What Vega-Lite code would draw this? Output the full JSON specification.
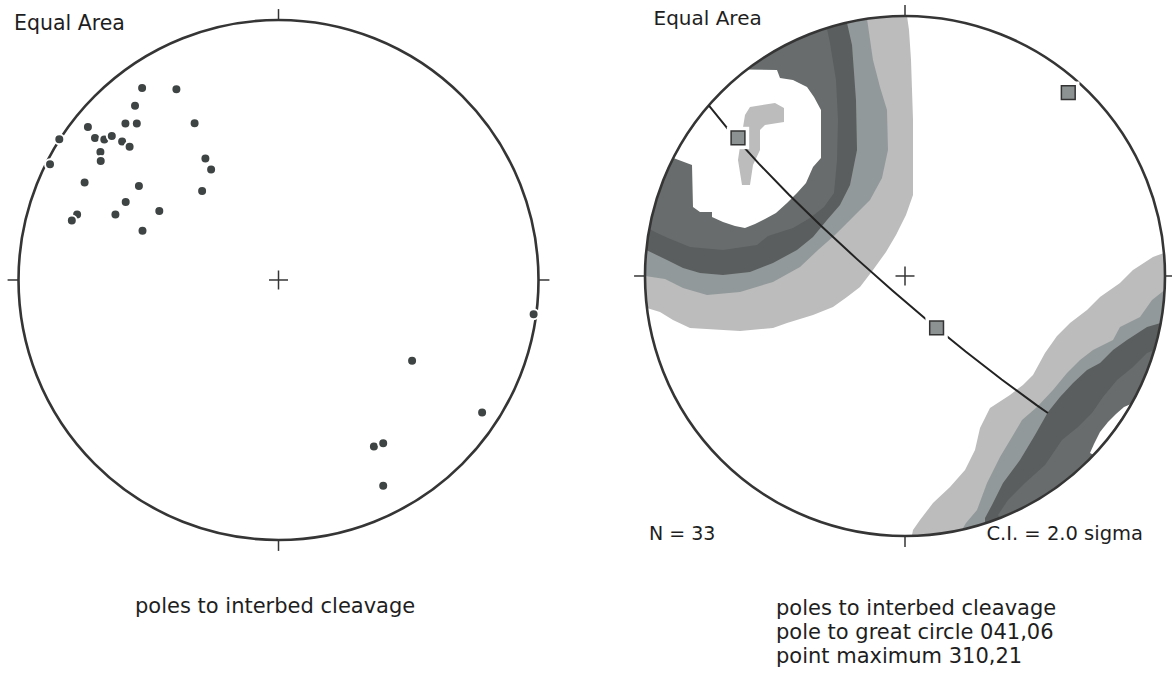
{
  "$schema": "https://vega.github.io/schema/vega-lite/v6.json",
  "padding": 0,
  "spacing": 0,
  "bounds": "flush",
  "config": {"view": {"stroke": null}},
  "datasets": {
    "rules": [
      {"x": 0, "y": 1, "x2": 0, "y2": 1.042},
      {"x": 0, "y": -1, "x2": 0, "y2": -1.042},
      {"x": -1, "y": 0, "x2": -1.042, "y2": 0},
      {"x": 1, "y": 0, "x2": 1.042, "y2": 0},
      {"x": -0.0365, "y": 0, "x2": 0.0365, "y2": 0},
      {"x": 0, "y": -0.0365, "x2": 0, "y2": 0.0365}
    ],
    "leftPts": [
      {"x": -0.5246, "y": 0.7388}, {"x": -0.3927, "y": 0.7335}, {"x": -0.5519, "y": 0.6704},
      {"x": -0.5888, "y": 0.6015}, {"x": -0.545, "y": 0.6015}, {"x": -0.3227, "y": 0.6031},
      {"x": -0.7331, "y": 0.5881}, {"x": -0.7058, "y": 0.5465}, {"x": -0.67, "y": 0.54},
      {"x": -0.6412, "y": 0.5535}, {"x": -0.6015, "y": 0.5331}, {"x": -0.5727, "y": 0.5123},
      {"x": -0.8431, "y": 0.5412}, {"x": -0.685, "y": 0.4919}, {"x": -0.6838, "y": 0.4573},
      {"x": -0.8788, "y": 0.445}, {"x": -0.2812, "y": 0.4669}, {"x": -0.2592, "y": 0.4246},
      {"x": -0.7458, "y": 0.375}, {"x": -0.5369, "y": 0.3612}, {"x": -0.2938, "y": 0.3419},
      {"x": -0.5877, "y": 0.2996}, {"x": -0.4585, "y": 0.265}, {"x": -0.7746, "y": 0.2515},
      {"x": -0.795, "y": 0.2292}, {"x": -0.6273, "y": 0.2515}, {"x": -0.5231, "y": 0.1896},
      {"x": 0.9812, "y": -0.1319}, {"x": 0.5138, "y": -0.3104}, {"x": 0.7831, "y": -0.5096},
      {"x": 0.3669, "y": -0.64}, {"x": 0.4027, "y": -0.6277}, {"x": 0.4027, "y": -0.7912}
    ],
    "poly": [
      {"p": "a1", "lev": 1, "i": 0, "x": 0.0077, "y": 0.9999},
      {"p": "a1", "lev": 1, "i": 1, "x": 0.0154, "y": 0.9462},
      {"p": "a1", "lev": 1, "i": 2, "x": 0.0231, "y": 0.8308},
      {"p": "a1", "lev": 1, "i": 3, "x": 0.0308, "y": 0.6},
      {"p": "a1", "lev": 1, "i": 4, "x": 0.0308, "y": 0.3115},
      {"p": "a1", "lev": 1, "i": 5, "x": 0.0038, "y": 0.2346},
      {"p": "a1", "lev": 1, "i": 6, "x": -0.0346, "y": 0.1577},
      {"p": "a1", "lev": 1, "i": 7, "x": -0.0731, "y": 0.0923},
      {"p": "a1", "lev": 1, "i": 8, "x": -0.1231, "y": 0.0231},
      {"p": "a1", "lev": 1, "i": 9, "x": -0.1731, "y": -0.0423},
      {"p": "a1", "lev": 1, "i": 10, "x": -0.2231, "y": -0.0808},
      {"p": "a1", "lev": 1, "i": 11, "x": -0.2769, "y": -0.1192},
      {"p": "a1", "lev": 1, "i": 12, "x": -0.3538, "y": -0.15},
      {"p": "a1", "lev": 1, "i": 13, "x": -0.4538, "y": -0.1808},
      {"p": "a1", "lev": 1, "i": 14, "x": -0.5077, "y": -0.2},
      {"p": "a1", "lev": 1, "i": 15, "x": -0.6346, "y": -0.2115},
      {"p": "a1", "lev": 1, "i": 16, "x": -0.8269, "y": -0.2},
      {"p": "a1", "lev": 1, "i": 17, "x": -0.8923, "y": -0.1692},
      {"p": "a1", "lev": 1, "i": 18, "x": -0.9423, "y": -0.1385},
      {"p": "a1", "lev": 1, "i": 19, "x": -0.9924, "y": -0.1231},
      {"p": "a1", "lev": 1, "i": 20, "x": -0.9962, "y": -0.0872},
      {"p": "a1", "lev": 1, "i": 21, "x": -1, "y": 0},
      {"p": "a1", "lev": 1, "i": 22, "x": -0.9848, "y": 0.1736},
      {"p": "a1", "lev": 1, "i": 23, "x": -0.9397, "y": 0.342},
      {"p": "a1", "lev": 1, "i": 24, "x": -0.866, "y": 0.5},
      {"p": "a1", "lev": 1, "i": 25, "x": -0.766, "y": 0.6428},
      {"p": "a1", "lev": 1, "i": 26, "x": -0.6428, "y": 0.766},
      {"p": "a1", "lev": 1, "i": 27, "x": -0.5, "y": 0.866},
      {"p": "a1", "lev": 1, "i": 28, "x": -0.342, "y": 0.9397},
      {"p": "a1", "lev": 1, "i": 29, "x": -0.1736, "y": 0.9848},
      {"p": "a1", "lev": 1, "i": 30, "x": -0.0872, "y": 0.9962},
      {"p": "a1", "lev": 1, "i": 31, "x": 0, "y": 1},

      {"p": "a2", "lev": 2, "i": 0, "x": -0.1461, "y": 0.9893},
      {"p": "a2", "lev": 2, "i": 1, "x": -0.1231, "y": 0.8308},
      {"p": "a2", "lev": 2, "i": 2, "x": -0.0962, "y": 0.7269},
      {"p": "a2", "lev": 2, "i": 3, "x": -0.0692, "y": 0.6385},
      {"p": "a2", "lev": 2, "i": 4, "x": -0.0654, "y": 0.4846},
      {"p": "a2", "lev": 2, "i": 5, "x": -0.0885, "y": 0.3769},
      {"p": "a2", "lev": 2, "i": 6, "x": -0.1346, "y": 0.2923},
      {"p": "a2", "lev": 2, "i": 7, "x": -0.2038, "y": 0.2231},
      {"p": "a2", "lev": 2, "i": 8, "x": -0.2692, "y": 0.1577},
      {"p": "a2", "lev": 2, "i": 9, "x": -0.3346, "y": 0.1},
      {"p": "a2", "lev": 2, "i": 10, "x": -0.4038, "y": 0.0346},
      {"p": "a2", "lev": 2, "i": 11, "x": -0.5077, "y": -0.0231},
      {"p": "a2", "lev": 2, "i": 12, "x": -0.6346, "y": -0.0615},
      {"p": "a2", "lev": 2, "i": 13, "x": -0.7615, "y": -0.0731},
      {"p": "a2", "lev": 2, "i": 14, "x": -0.8538, "y": -0.0462},
      {"p": "a2", "lev": 2, "i": 15, "x": -0.9231, "y": -0.0115},
      {"p": "a2", "lev": 2, "i": 16, "x": -1, "y": 0},
      {"p": "a2", "lev": 2, "i": 17, "x": -0.9848, "y": 0.1736},
      {"p": "a2", "lev": 2, "i": 18, "x": -0.9397, "y": 0.342},
      {"p": "a2", "lev": 2, "i": 19, "x": -0.866, "y": 0.5},
      {"p": "a2", "lev": 2, "i": 20, "x": -0.766, "y": 0.6428},
      {"p": "a2", "lev": 2, "i": 21, "x": -0.6428, "y": 0.766},
      {"p": "a2", "lev": 2, "i": 22, "x": -0.5, "y": 0.866},
      {"p": "a2", "lev": 2, "i": 23, "x": -0.342, "y": 0.9397},
      {"p": "a2", "lev": 2, "i": 24, "x": -0.1736, "y": 0.9848},

      {"p": "a3", "lev": 3, "i": 0, "x": -0.2233, "y": 0.9748},
      {"p": "a3", "lev": 3, "i": 1, "x": -0.2038, "y": 0.8885},
      {"p": "a3", "lev": 3, "i": 2, "x": -0.1885, "y": 0.6769},
      {"p": "a3", "lev": 3, "i": 3, "x": -0.1846, "y": 0.4846},
      {"p": "a3", "lev": 3, "i": 4, "x": -0.2115, "y": 0.35},
      {"p": "a3", "lev": 3, "i": 5, "x": -0.25, "y": 0.2731},
      {"p": "a3", "lev": 3, "i": 6, "x": -0.3, "y": 0.2154},
      {"p": "a3", "lev": 3, "i": 7, "x": -0.3538, "y": 0.15},
      {"p": "a3", "lev": 3, "i": 8, "x": -0.4154, "y": 0.1},
      {"p": "a3", "lev": 3, "i": 9, "x": -0.5077, "y": 0.05},
      {"p": "a3", "lev": 3, "i": 10, "x": -0.5962, "y": 0.0154},
      {"p": "a3", "lev": 3, "i": 11, "x": -0.7, "y": 0.0038},
      {"p": "a3", "lev": 3, "i": 12, "x": -0.7885, "y": 0.0115},
      {"p": "a3", "lev": 3, "i": 13, "x": -0.8538, "y": 0.0308},
      {"p": "a3", "lev": 3, "i": 14, "x": -0.9154, "y": 0.0615},
      {"p": "a3", "lev": 3, "i": 15, "x": -0.995, "y": 0.1},
      {"p": "a3", "lev": 3, "i": 16, "x": -0.9848, "y": 0.1736},
      {"p": "a3", "lev": 3, "i": 17, "x": -0.9397, "y": 0.342},
      {"p": "a3", "lev": 3, "i": 18, "x": -0.866, "y": 0.5},
      {"p": "a3", "lev": 3, "i": 19, "x": -0.766, "y": 0.6428},
      {"p": "a3", "lev": 3, "i": 20, "x": -0.6428, "y": 0.766},
      {"p": "a3", "lev": 3, "i": 21, "x": -0.5, "y": 0.866},
      {"p": "a3", "lev": 3, "i": 22, "x": -0.342, "y": 0.9397},

      {"p": "a4", "lev": 4, "i": 0, "x": -0.3007, "y": 0.9537},
      {"p": "a4", "lev": 4, "i": 1, "x": -0.2885, "y": 0.8962},
      {"p": "a4", "lev": 4, "i": 2, "x": -0.2654, "y": 0.7538},
      {"p": "a4", "lev": 4, "i": 3, "x": -0.2577, "y": 0.6},
      {"p": "a4", "lev": 4, "i": 4, "x": -0.2615, "y": 0.4462},
      {"p": "a4", "lev": 4, "i": 5, "x": -0.2731, "y": 0.3192},
      {"p": "a4", "lev": 4, "i": 6, "x": -0.3115, "y": 0.2654},
      {"p": "a4", "lev": 4, "i": 7, "x": -0.3654, "y": 0.2231},
      {"p": "a4", "lev": 4, "i": 8, "x": -0.4308, "y": 0.1846},
      {"p": "a4", "lev": 4, "i": 9, "x": -0.5269, "y": 0.1538},
      {"p": "a4", "lev": 4, "i": 10, "x": -0.5692, "y": 0.1192},
      {"p": "a4", "lev": 4, "i": 11, "x": -0.7, "y": 0.1},
      {"p": "a4", "lev": 4, "i": 12, "x": -0.8269, "y": 0.1115},
      {"p": "a4", "lev": 4, "i": 13, "x": -0.9115, "y": 0.1462},
      {"p": "a4", "lev": 4, "i": 14, "x": -0.9538, "y": 0.1654},
      {"p": "a4", "lev": 4, "i": 15, "x": -0.9835, "y": 0.1808},
      {"p": "a4", "lev": 4, "i": 16, "x": -0.9397, "y": 0.342},
      {"p": "a4", "lev": 4, "i": 17, "x": -0.866, "y": 0.5},
      {"p": "a4", "lev": 4, "i": 18, "x": -0.766, "y": 0.6428},
      {"p": "a4", "lev": 4, "i": 19, "x": -0.6428, "y": 0.766},
      {"p": "a4", "lev": 4, "i": 20, "x": -0.5, "y": 0.866},
      {"p": "a4", "lev": 4, "i": 21, "x": -0.342, "y": 0.9397},

      {"p": "a5", "lev": 5, "i": 0, "x": -0.891, "y": 0.454},
      {"p": "a5", "lev": 5, "i": 1, "x": -0.8192, "y": 0.4269},
      {"p": "a5", "lev": 5, "i": 2, "x": -0.8154, "y": 0.2654},
      {"p": "a5", "lev": 5, "i": 3, "x": -0.7885, "y": 0.2462},
      {"p": "a5", "lev": 5, "i": 4, "x": -0.7423, "y": 0.2462},
      {"p": "a5", "lev": 5, "i": 5, "x": -0.7423, "y": 0.2269},
      {"p": "a5", "lev": 5, "i": 6, "x": -0.7, "y": 0.2077},
      {"p": "a5", "lev": 5, "i": 7, "x": -0.6538, "y": 0.1923},
      {"p": "a5", "lev": 5, "i": 8, "x": -0.6154, "y": 0.1846},
      {"p": "a5", "lev": 5, "i": 9, "x": -0.5769, "y": 0.2},
      {"p": "a5", "lev": 5, "i": 10, "x": -0.5385, "y": 0.2192},
      {"p": "a5", "lev": 5, "i": 11, "x": -0.4962, "y": 0.2423},
      {"p": "a5", "lev": 5, "i": 12, "x": -0.4538, "y": 0.2808},
      {"p": "a5", "lev": 5, "i": 13, "x": -0.4154, "y": 0.3192},
      {"p": "a5", "lev": 5, "i": 14, "x": -0.3808, "y": 0.3577},
      {"p": "a5", "lev": 5, "i": 15, "x": -0.3538, "y": 0.4192},
      {"p": "a5", "lev": 5, "i": 16, "x": -0.3231, "y": 0.4538},
      {"p": "a5", "lev": 5, "i": 17, "x": -0.3231, "y": 0.6385},
      {"p": "a5", "lev": 5, "i": 18, "x": -0.35, "y": 0.6885},
      {"p": "a5", "lev": 5, "i": 19, "x": -0.3769, "y": 0.7269},
      {"p": "a5", "lev": 5, "i": 20, "x": -0.4308, "y": 0.7538},
      {"p": "a5", "lev": 5, "i": 21, "x": -0.4808, "y": 0.7615},
      {"p": "a5", "lev": 5, "i": 22, "x": -0.4923, "y": 0.7923},
      {"p": "a5", "lev": 5, "i": 23, "x": -0.6074, "y": 0.7944},
      {"p": "a5", "lev": 5, "i": 24, "x": -0.6428, "y": 0.766},
      {"p": "a5", "lev": 5, "i": 25, "x": -0.766, "y": 0.6428},
      {"p": "a5", "lev": 5, "i": 26, "x": -0.866, "y": 0.5},

      {"p": "a6", "lev": 6, "i": 0, "x": -0.5962, "y": 0.65},
      {"p": "a6", "lev": 6, "i": 1, "x": -0.5, "y": 0.6654},
      {"p": "a6", "lev": 6, "i": 2, "x": -0.4654, "y": 0.6462},
      {"p": "a6", "lev": 6, "i": 3, "x": -0.4654, "y": 0.5923},
      {"p": "a6", "lev": 6, "i": 4, "x": -0.5385, "y": 0.5808},
      {"p": "a6", "lev": 6, "i": 5, "x": -0.5577, "y": 0.5615},
      {"p": "a6", "lev": 6, "i": 6, "x": -0.5577, "y": 0.4846},
      {"p": "a6", "lev": 6, "i": 7, "x": -0.5846, "y": 0.4269},
      {"p": "a6", "lev": 6, "i": 8, "x": -0.5962, "y": 0.35},
      {"p": "a6", "lev": 6, "i": 9, "x": -0.6269, "y": 0.35},
      {"p": "a6", "lev": 6, "i": 10, "x": -0.6423, "y": 0.4462},
      {"p": "a6", "lev": 6, "i": 11, "x": -0.6308, "y": 0.5231},
      {"p": "a6", "lev": 6, "i": 12, "x": -0.6154, "y": 0.6192},

      {"p": "b1", "lev": 1, "i": 0, "x": 0.996, "y": 0.0889},
      {"p": "b1", "lev": 1, "i": 1, "x": 0.9538, "y": 0.0731},
      {"p": "b1", "lev": 1, "i": 2, "x": 0.8769, "y": 0.0231},
      {"p": "b1", "lev": 1, "i": 3, "x": 0.8269, "y": -0.0269},
      {"p": "b1", "lev": 1, "i": 4, "x": 0.75, "y": -0.0808},
      {"p": "b1", "lev": 1, "i": 5, "x": 0.7, "y": -0.1308},
      {"p": "b1", "lev": 1, "i": 6, "x": 0.6346, "y": -0.1808},
      {"p": "b1", "lev": 1, "i": 7, "x": 0.5846, "y": -0.2308},
      {"p": "b1", "lev": 1, "i": 8, "x": 0.5385, "y": -0.2962},
      {"p": "b1", "lev": 1, "i": 9, "x": 0.4923, "y": -0.3808},
      {"p": "b1", "lev": 1, "i": 10, "x": 0.4538, "y": -0.4192},
      {"p": "b1", "lev": 1, "i": 11, "x": 0.4038, "y": -0.4577},
      {"p": "b1", "lev": 1, "i": 12, "x": 0.3269, "y": -0.5077},
      {"p": "b1", "lev": 1, "i": 13, "x": 0.2885, "y": -0.5846},
      {"p": "b1", "lev": 1, "i": 14, "x": 0.2692, "y": -0.6692},
      {"p": "b1", "lev": 1, "i": 15, "x": 0.2308, "y": -0.7462},
      {"p": "b1", "lev": 1, "i": 16, "x": 0.1731, "y": -0.8115},
      {"p": "b1", "lev": 1, "i": 17, "x": 0.1077, "y": -0.8731},
      {"p": "b1", "lev": 1, "i": 18, "x": 0.0577, "y": -0.9385},
      {"p": "b1", "lev": 1, "i": 19, "x": 0.0308, "y": -0.9769},
      {"p": "b1", "lev": 1, "i": 20, "x": 0.0262, "y": -0.9997},
      {"p": "b1", "lev": 1, "i": 21, "x": 0.0872, "y": -0.9962},
      {"p": "b1", "lev": 1, "i": 22, "x": 0.1736, "y": -0.9848},
      {"p": "b1", "lev": 1, "i": 23, "x": 0.342, "y": -0.9397},
      {"p": "b1", "lev": 1, "i": 24, "x": 0.5, "y": -0.866},
      {"p": "b1", "lev": 1, "i": 25, "x": 0.6428, "y": -0.766},
      {"p": "b1", "lev": 1, "i": 26, "x": 0.766, "y": -0.6428},
      {"p": "b1", "lev": 1, "i": 27, "x": 0.866, "y": -0.5},
      {"p": "b1", "lev": 1, "i": 28, "x": 0.9397, "y": -0.342},
      {"p": "b1", "lev": 1, "i": 29, "x": 0.9848, "y": -0.1736},
      {"p": "b1", "lev": 1, "i": 30, "x": 1, "y": 0},

      {"p": "b2", "lev": 2, "i": 0, "x": 0.9986, "y": -0.0538},
      {"p": "b2", "lev": 2, "i": 1, "x": 0.95, "y": -0.0923},
      {"p": "b2", "lev": 2, "i": 2, "x": 0.9038, "y": -0.1577},
      {"p": "b2", "lev": 2, "i": 3, "x": 0.8269, "y": -0.1962},
      {"p": "b2", "lev": 2, "i": 4, "x": 0.8, "y": -0.2462},
      {"p": "b2", "lev": 2, "i": 5, "x": 0.7231, "y": -0.2846},
      {"p": "b2", "lev": 2, "i": 6, "x": 0.6731, "y": -0.3231},
      {"p": "b2", "lev": 2, "i": 7, "x": 0.6231, "y": -0.3731},
      {"p": "b2", "lev": 2, "i": 8, "x": 0.5692, "y": -0.4385},
      {"p": "b2", "lev": 2, "i": 9, "x": 0.5077, "y": -0.5038},
      {"p": "b2", "lev": 2, "i": 10, "x": 0.45, "y": -0.5538},
      {"p": "b2", "lev": 2, "i": 11, "x": 0.4115, "y": -0.6192},
      {"p": "b2", "lev": 2, "i": 12, "x": 0.3654, "y": -0.6962},
      {"p": "b2", "lev": 2, "i": 13, "x": 0.3154, "y": -0.7962},
      {"p": "b2", "lev": 2, "i": 14, "x": 0.2769, "y": -0.9},
      {"p": "b2", "lev": 2, "i": 15, "x": 0.2346, "y": -0.95},
      {"p": "b2", "lev": 2, "i": 16, "x": 0.2192, "y": -0.9757},
      {"p": "b2", "lev": 2, "i": 17, "x": 0.342, "y": -0.9397},
      {"p": "b2", "lev": 2, "i": 18, "x": 0.5, "y": -0.866},
      {"p": "b2", "lev": 2, "i": 19, "x": 0.6428, "y": -0.766},
      {"p": "b2", "lev": 2, "i": 20, "x": 0.766, "y": -0.6428},
      {"p": "b2", "lev": 2, "i": 21, "x": 0.866, "y": -0.5},
      {"p": "b2", "lev": 2, "i": 22, "x": 0.9397, "y": -0.342},
      {"p": "b2", "lev": 2, "i": 23, "x": 0.9848, "y": -0.1736},

      {"p": "b3", "lev": 3, "i": 0, "x": 0.9835, "y": -0.1808},
      {"p": "b3", "lev": 3, "i": 1, "x": 0.9308, "y": -0.1962},
      {"p": "b3", "lev": 3, "i": 2, "x": 0.8538, "y": -0.2462},
      {"p": "b3", "lev": 3, "i": 3, "x": 0.8, "y": -0.2846},
      {"p": "b3", "lev": 3, "i": 4, "x": 0.75, "y": -0.3346},
      {"p": "b3", "lev": 3, "i": 5, "x": 0.7, "y": -0.3615},
      {"p": "b3", "lev": 3, "i": 6, "x": 0.6462, "y": -0.4115},
      {"p": "b3", "lev": 3, "i": 7, "x": 0.5962, "y": -0.4654},
      {"p": "b3", "lev": 3, "i": 8, "x": 0.55, "y": -0.5231},
      {"p": "b3", "lev": 3, "i": 9, "x": 0.5, "y": -0.6115},
      {"p": "b3", "lev": 3, "i": 10, "x": 0.4423, "y": -0.7077},
      {"p": "b3", "lev": 3, "i": 11, "x": 0.3769, "y": -0.7962},
      {"p": "b3", "lev": 3, "i": 12, "x": 0.3346, "y": -0.8808},
      {"p": "b3", "lev": 3, "i": 13, "x": 0.3077, "y": -0.9308},
      {"p": "b3", "lev": 3, "i": 14, "x": 0.3077, "y": -0.9515},
      {"p": "b3", "lev": 3, "i": 15, "x": 0.342, "y": -0.9397},
      {"p": "b3", "lev": 3, "i": 16, "x": 0.5, "y": -0.866},
      {"p": "b3", "lev": 3, "i": 17, "x": 0.6428, "y": -0.766},
      {"p": "b3", "lev": 3, "i": 18, "x": 0.766, "y": -0.6428},
      {"p": "b3", "lev": 3, "i": 19, "x": 0.866, "y": -0.5},
      {"p": "b3", "lev": 3, "i": 20, "x": 0.9397, "y": -0.342},

      {"p": "b4", "lev": 4, "i": 0, "x": 0.9586, "y": -0.2846},
      {"p": "b4", "lev": 4, "i": 1, "x": 0.9308, "y": -0.2962},
      {"p": "b4", "lev": 4, "i": 2, "x": 0.8769, "y": -0.35},
      {"p": "b4", "lev": 4, "i": 3, "x": 0.8154, "y": -0.4},
      {"p": "b4", "lev": 4, "i": 4, "x": 0.7615, "y": -0.4654},
      {"p": "b4", "lev": 4, "i": 5, "x": 0.7192, "y": -0.5269},
      {"p": "b4", "lev": 4, "i": 6, "x": 0.6654, "y": -0.5808},
      {"p": "b4", "lev": 4, "i": 7, "x": 0.6038, "y": -0.6308},
      {"p": "b4", "lev": 4, "i": 8, "x": 0.5385, "y": -0.7269},
      {"p": "b4", "lev": 4, "i": 9, "x": 0.4615, "y": -0.7962},
      {"p": "b4", "lev": 4, "i": 10, "x": 0.3962, "y": -0.8615},
      {"p": "b4", "lev": 4, "i": 11, "x": 0.3577, "y": -0.9192},
      {"p": "b4", "lev": 4, "i": 12, "x": 0.3654, "y": -0.9309},
      {"p": "b4", "lev": 4, "i": 13, "x": 0.5, "y": -0.866},
      {"p": "b4", "lev": 4, "i": 14, "x": 0.6428, "y": -0.766},
      {"p": "b4", "lev": 4, "i": 15, "x": 0.766, "y": -0.6428},
      {"p": "b4", "lev": 4, "i": 16, "x": 0.866, "y": -0.5},
      {"p": "b4", "lev": 4, "i": 17, "x": 0.9397, "y": -0.342},

      {"p": "b5", "lev": 5, "i": 0, "x": 0.8712, "y": -0.4909},
      {"p": "b5", "lev": 5, "i": 1, "x": 0.8423, "y": -0.5038},
      {"p": "b5", "lev": 5, "i": 2, "x": 0.8115, "y": -0.5308},
      {"p": "b5", "lev": 5, "i": 3, "x": 0.7808, "y": -0.5615},
      {"p": "b5", "lev": 5, "i": 4, "x": 0.75, "y": -0.6},
      {"p": "b5", "lev": 5, "i": 5, "x": 0.7269, "y": -0.6462},
      {"p": "b5", "lev": 5, "i": 6, "x": 0.7115, "y": -0.6808},
      {"p": "b5", "lev": 5, "i": 7, "x": 0.7254, "y": -0.6884},
      {"p": "b5", "lev": 5, "i": 8, "x": 0.766, "y": -0.6428},
      {"p": "b5", "lev": 5, "i": 9, "x": 0.866, "y": -0.5}
    ],
    "gc": [
      {"i": 0, "x": -0.7547, "y": 0.6561},
      {"i": 1, "x": -0.666, "y": 0.547},
      {"i": 2, "x": -0.5622, "y": 0.4321},
      {"i": 3, "x": -0.4461, "y": 0.3127},
      {"i": 4, "x": -0.3202, "y": 0.1904},
      {"i": 5, "x": -0.1868, "y": 0.0668},
      {"i": 6, "x": -0.0486, "y": -0.0559},
      {"i": 7, "x": 0.0921, "y": -0.1757},
      {"i": 8, "x": 0.2331, "y": -0.2906},
      {"i": 9, "x": 0.3718, "y": -0.3982},
      {"i": 10, "x": 0.5061, "y": -0.4966},
      {"i": 11, "x": 0.5496, "y": -0.5269}
    ],
    "squares": [
      {"x": -0.6423, "y": 0.5308},
      {"x": 0.1215, "y": -0.1996},
      {"x": 0.628, "y": 0.705}
    ]
  },
  "hconcat": [
    {
      "width": 560,
      "height": 687,
      "encoding": {
        "x": {"field": "x", "type": "quantitative", "scale": {"domain": [-1.0712, 1.0827], "nice": false, "zero": false}, "axis": null},
        "y": {"field": "y", "type": "quantitative", "scale": {"domain": [-1.5654, 1.0769], "nice": false, "zero": false}, "axis": null}
      },
      "layer": [
        {"data": {"values": [{"x": 0, "y": 0}]}, "mark": {"type": "point", "shape": "circle", "filled": false, "size": 270400, "stroke": "#353535", "strokeWidth": 2.6, "opacity": 1}},
        {"data": {"name": "rules"}, "mark": {"type": "rule", "stroke": "#353535", "strokeWidth": 1.5}, "encoding": {"x2": {"field": "x2"}, "y2": {"field": "y2"}}},
        {"data": {"name": "leftPts"}, "mark": {"type": "point", "shape": "circle", "filled": true, "size": 100, "fill": "#3e4343", "stroke": "#ffffff", "strokeWidth": 2, "opacity": 1}},
        {"data": {"values": [{"x": -1.0173, "y": 0.9846, "t": "Equal Area"}]}, "mark": {"type": "text", "align": "left", "baseline": "middle", "font": "DejaVu Sans", "fontSize": 20.5, "fill": "#1e1e1e"}, "encoding": {"text": {"field": "t"}}},
        {"data": {"values": [{"x": -0.5519, "y": -1.2577, "t": "poles to interbed cleavage"}]}, "mark": {"type": "text", "align": "left", "baseline": "middle", "font": "DejaVu Sans", "fontSize": 21, "fill": "#1e1e1e"}, "encoding": {"text": {"field": "t"}}}
      ]
    },
    {
      "width": 612,
      "height": 687,
      "encoding": {
        "x": {"field": "x", "type": "quantitative", "scale": {"domain": [-1.3269, 1.0269], "nice": false, "zero": false}, "axis": null},
        "y": {"field": "y", "type": "quantitative", "scale": {"domain": [-1.5808, 1.0615], "nice": false, "zero": false}, "axis": null}
      },
      "layer": [
        {"data": {"name": "poly"}, "transform": [{"filter": "datum.lev == 1"}], "mark": {"type": "line", "interpolate": "linear-closed", "filled": true, "fill": "#bcbcbc", "strokeWidth": 0}, "encoding": {"detail": {"field": "p"}, "order": {"field": "i"}}},
        {"data": {"name": "poly"}, "transform": [{"filter": "datum.lev == 2"}], "mark": {"type": "line", "interpolate": "linear-closed", "filled": true, "fill": "#92999a", "strokeWidth": 0}, "encoding": {"detail": {"field": "p"}, "order": {"field": "i"}}},
        {"data": {"name": "poly"}, "transform": [{"filter": "datum.lev == 3"}], "mark": {"type": "line", "interpolate": "linear-closed", "filled": true, "fill": "#5b5e5e", "strokeWidth": 0}, "encoding": {"detail": {"field": "p"}, "order": {"field": "i"}}},
        {"data": {"name": "poly"}, "transform": [{"filter": "datum.lev == 4"}], "mark": {"type": "line", "interpolate": "linear-closed", "filled": true, "fill": "#686c6c", "strokeWidth": 0}, "encoding": {"detail": {"field": "p"}, "order": {"field": "i"}}},
        {"data": {"name": "poly"}, "transform": [{"filter": "datum.lev == 5"}], "mark": {"type": "line", "interpolate": "linear-closed", "filled": true, "fill": "#ffffff", "strokeWidth": 0}, "encoding": {"detail": {"field": "p"}, "order": {"field": "i"}}},
        {"data": {"name": "poly"}, "transform": [{"filter": "datum.lev == 6"}], "mark": {"type": "line", "interpolate": "linear-closed", "filled": true, "fill": "#bcbcbc", "strokeWidth": 0}, "encoding": {"detail": {"field": "p"}, "order": {"field": "i"}}},
        {"data": {"values": [{"x": 0, "y": 0}]}, "mark": {"type": "point", "shape": "circle", "filled": false, "size": 270400, "stroke": "#353535", "strokeWidth": 2.6, "opacity": 1}},
        {"data": {"name": "gc"}, "mark": {"type": "line", "stroke": "#222222", "strokeWidth": 2}, "encoding": {"order": {"field": "i"}}},
        {"data": {"name": "squares"}, "mark": {"type": "square", "size": 500, "fill": "#ffffff", "strokeWidth": 0, "opacity": 1}},
        {"data": {"name": "squares"}, "mark": {"type": "square", "size": 190, "fill": "#8c9292", "stroke": "#333333", "strokeWidth": 1.5, "opacity": 1}},
        {"data": {"name": "rules"}, "mark": {"type": "rule", "stroke": "#353535", "strokeWidth": 1.5}, "encoding": {"x2": {"field": "x2"}, "y2": {"field": "y2"}}},
        {"data": {"values": [{"x": -0.9673, "y": 0.9885, "t": "Equal Area"}]}, "mark": {"type": "text", "align": "left", "baseline": "middle", "font": "DejaVu Sans", "fontSize": 20, "fill": "#1e1e1e"}, "encoding": {"text": {"field": "t"}}},
        {"data": {"values": [{"x": -0.9846, "y": -0.9923, "t": "N =  33"}]}, "mark": {"type": "text", "align": "left", "baseline": "middle", "font": "DejaVu Sans", "fontSize": 19, "fill": "#1e1e1e"}, "encoding": {"text": {"field": "t"}}},
        {"data": {"values": [{"x": 0.9154, "y": -0.9923, "t": "C.I. = 2.0 sigma"}]}, "mark": {"type": "text", "align": "right", "baseline": "middle", "font": "DejaVu Sans", "fontSize": 19.5, "fill": "#1e1e1e"}, "encoding": {"text": {"field": "t"}}},
        {"data": {"values": [
          {"x": -0.4962, "y": -1.2808, "t": "poles to interbed cleavage"},
          {"x": -0.4962, "y": -1.3731, "t": "pole to great circle 041,06"},
          {"x": -0.4962, "y": -1.4654, "t": "point maximum 310,21"}
        ]}, "mark": {"type": "text", "align": "left", "baseline": "middle", "font": "DejaVu Sans", "fontSize": 21, "fill": "#1e1e1e"}, "encoding": {"text": {"field": "t"}}}
      ]
    }
  ]
}
